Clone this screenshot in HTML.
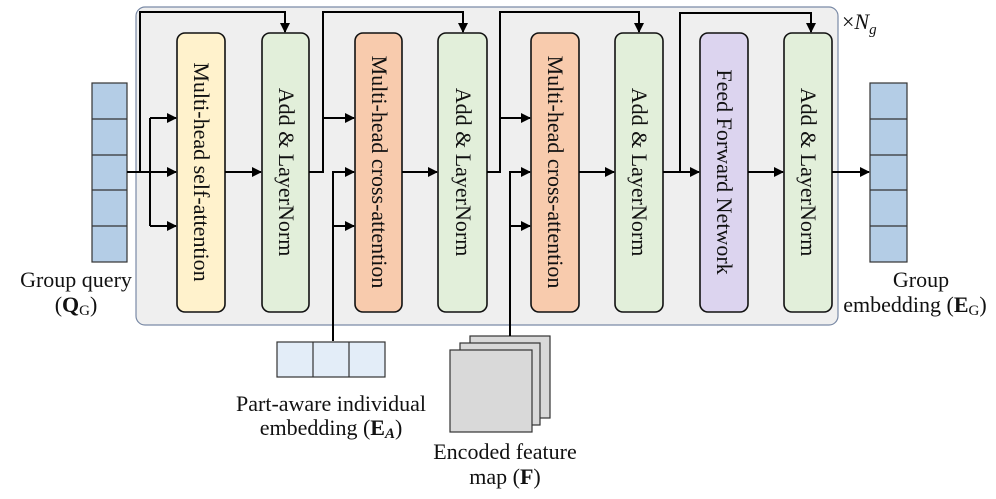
<!DOCTYPE html>
<html><head><meta charset="utf-8"><style>
html,body{margin:0;padding:0;background:#fff;}
svg{display:block;}
text{font-family:"Liberation Serif",serif;fill:#111;}
</style></head><body>
<svg width="996" height="499" viewBox="0 0 996 499" xmlns="http://www.w3.org/2000/svg">
<defs><marker id="a" markerWidth="10" markerHeight="10" refX="9" refY="5" orient="auto" markerUnits="userSpaceOnUse"><path d="M0,0 L10,5 L0,10 z" fill="#000"/></marker></defs>
<rect x="136" y="7" width="702" height="318" rx="9" fill="#efefef" stroke="#7a8aa6" stroke-width="1.2"/>
<g stroke="#111" stroke-width="1.6">
<rect x="177" y="33" width="48" height="279" rx="8" fill="#fff2cc"/>
<rect x="262" y="33" width="47" height="279" rx="8" fill="#e2efda"/>
<rect x="355" y="33" width="47" height="279" rx="8" fill="#f8cbad"/>
<rect x="438" y="33" width="49" height="279" rx="8" fill="#e2efda"/>
<rect x="531" y="33" width="48" height="279" rx="8" fill="#f8cbad"/>
<rect x="615" y="33" width="48" height="279" rx="8" fill="#e2efda"/>
<rect x="700" y="33" width="48" height="279" rx="8" fill="#dcd4ef"/>
<rect x="784" y="33" width="48" height="279" rx="8" fill="#e2efda"/>
</g>
<g font-size="22">
<text transform="translate(194,172) rotate(90)" text-anchor="middle">Multi-head self-attention</text>
<text transform="translate(279,172) rotate(90)" text-anchor="middle">Add &amp; LayerNorm</text>
<text transform="translate(372,172) rotate(90)" text-anchor="middle">Multi-head cross-attention</text>
<text transform="translate(456,172) rotate(90)" text-anchor="middle">Add &amp; LayerNorm</text>
<text transform="translate(548,172) rotate(90)" text-anchor="middle">Multi-head cross-attention</text>
<text transform="translate(632,172) rotate(90)" text-anchor="middle">Add &amp; LayerNorm</text>
<text transform="translate(717,172) rotate(90)" text-anchor="middle">Feed Forward Network</text>
<text transform="translate(801,172) rotate(90)" text-anchor="middle">Add &amp; LayerNorm</text>
</g>
<g stroke="#333" stroke-width="1.2" fill="#b4cde6">
<rect x="92" y="83" width="35" height="179"/>
<line x1="92" y1="119" x2="127" y2="119"/><line x1="92" y1="155" x2="127" y2="155"/><line x1="92" y1="190" x2="127" y2="190"/><line x1="92" y1="226" x2="127" y2="226"/>
<rect x="870" y="83" width="37" height="179"/>
<line x1="870" y1="119" x2="907" y2="119"/><line x1="870" y1="155" x2="907" y2="155"/><line x1="870" y1="190" x2="907" y2="190"/><line x1="870" y1="226" x2="907" y2="226"/>
<rect x="277" y="342" width="108" height="35" fill="#e3edf8"/>
<line x1="313" y1="342" x2="313" y2="377"/><line x1="349" y1="342" x2="349" y2="377"/>
</g>
<g stroke="#333" stroke-width="1.2" fill="#d9d9d9">
<rect x="470" y="336" width="80" height="82"/>
<rect x="460" y="343" width="80" height="82"/>
<rect x="450" y="350" width="82" height="82"/>
</g>
<g stroke="#000" stroke-width="2" fill="none">
<path d="M127,172 H176" marker-end="url(#a)"/>
<path d="M140,172 V12 H285 V32" marker-end="url(#a)"/>
<path d="M150,118 H176" marker-end="url(#a)"/>
<path d="M150,226 V118"/>
<path d="M150,226 H176" marker-end="url(#a)"/>
<path d="M225,172 H261" marker-end="url(#a)"/>
<path d="M309,172 H323 V12 H463 V32" marker-end="url(#a)"/>
<path d="M323,118 H354" marker-end="url(#a)"/>
<path d="M333,341 V172 H354" marker-end="url(#a)"/>
<path d="M333,226 H354" marker-end="url(#a)"/>
<path d="M402,172 H437" marker-end="url(#a)"/>
<path d="M487,172 H500 V12 H639 V32" marker-end="url(#a)"/>
<path d="M500,118 H530" marker-end="url(#a)"/>
<path d="M510,336 V172 H530" marker-end="url(#a)"/>
<path d="M510,226 H530" marker-end="url(#a)"/>
<path d="M579,172 H614" marker-end="url(#a)"/>
<path d="M663,172 H699" marker-end="url(#a)"/>
<path d="M680,172 V13 H811 V32" marker-end="url(#a)"/>
<path d="M748,172 H783" marker-end="url(#a)"/>
<path d="M832,172 H869" marker-end="url(#a)"/>
</g>
<g font-size="22">
<text x="842" y="29">×<tspan font-style="italic">N</tspan><tspan font-style="italic" font-size="15" dy="5">g</tspan></text>
<text x="76" y="287" text-anchor="middle">Group query</text>
<text x="76" y="312" text-anchor="middle">(<tspan font-weight="bold">Q</tspan><tspan font-size="15" dy="3">G</tspan><tspan dy="-3">)</tspan></text>
<text x="921" y="287" text-anchor="middle">Group</text>
<text x="915" y="312" text-anchor="middle">embedding (<tspan font-weight="bold">E</tspan><tspan font-size="15" dy="3">G</tspan><tspan dy="-3">)</tspan></text>
<text x="331" y="411" text-anchor="middle">Part-aware individual</text>
<text x="331" y="435" text-anchor="middle">embedding (<tspan font-weight="bold">E</tspan><tspan font-size="15" font-weight="bold" font-style="italic" dy="3">A</tspan><tspan dy="-3">)</tspan></text>
<text x="505" y="459" text-anchor="middle">Encoded feature</text>
<text x="505" y="484" text-anchor="middle">map  (<tspan font-weight="bold">F</tspan>)</text>
</g>
</svg>
</body></html>
